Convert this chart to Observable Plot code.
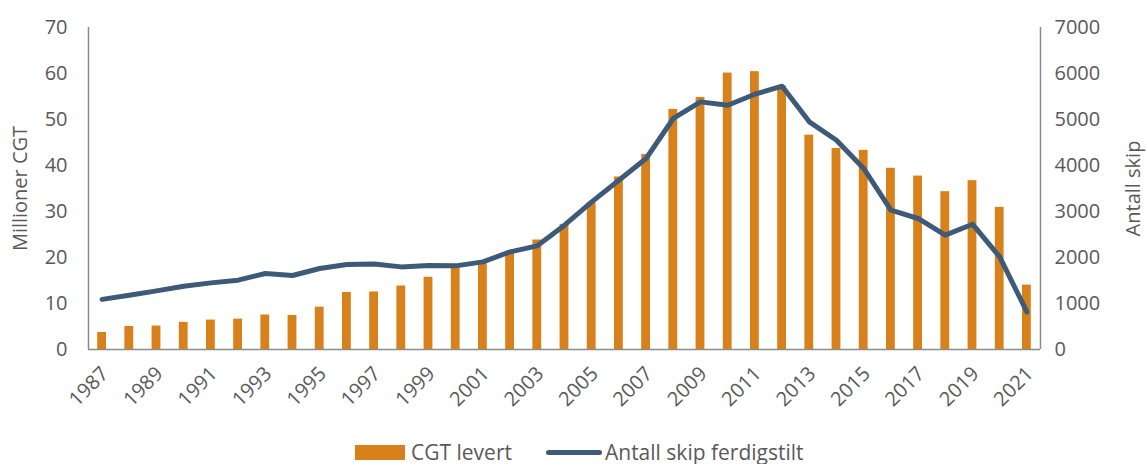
<!DOCTYPE html>
<html>
<head>
<meta charset="utf-8">
<script src="https://cdn.jsdelivr.net/npm/d3@7"></script>
<script src="https://cdn.jsdelivr.net/npm/@observablehq/plot@0.6"></script>
<style>
  body { margin: 0; background: #fff; font-family: "Open Sans", sans-serif; color: #595959; }
  #legend { display: flex; align-items: center; height: 24px; margin-left: 355px; font-size: 21px; color: #595959; }
  .sw-bar { width: 50px; height: 15px; background: #D8801A; margin-right: 6px; }
  .sw-line { width: 56px; height: 5px; background: #3D5A78; border-radius: 3px; margin-left: 34px; margin-right: 3px; }
</style>
</head>
<body>
<div id="chart"></div>
<div id="legend"><div class="sw-bar"></div><span>CGT levert</span><div class="sw-line"></div><span>Antall skip ferdigstilt</span></div>
<script>
const years = d3.range(1987, 2022);
const cgtLevert = [3.7, 5.0, 5.1, 5.9, 6.4, 6.6, 7.5, 7.4, 9.2, 12.4, 12.5, 13.8, 15.7, 17.8, 18.8, 20.9, 23.8, 27.2, 31.9, 37.5, 42.4, 52.2, 54.8, 60.1, 60.4, 57.3, 46.6, 43.7, 43.3, 39.4, 37.7, 34.3, 36.7, 30.9, 14.0];
const antallSkip = [1090, 1180, 1275, 1376, 1448, 1507, 1652, 1609, 1761, 1848, 1861, 1796, 1826, 1818, 1905, 2123, 2253, 2703, 3210, 3681, 4152, 5022, 5383, 5311, 5550, 5724, 4949, 4550, 3935, 3028, 2848, 2485, 2724, 2013, 817];
const leftTicks = [0, 10, 20, 30, 40, 50, 60, 70];
const rightTicks = [0, 1000, 2000, 3000, 4000, 5000, 6000, 7000];
const xTicks = years.filter(y => y % 2 === 1);

const data = years.map((year, i) => ({year, cgt: cgtLevert[i], skip: antallSkip[i]}));
const ratio = 7000 / 70;

const chart = Plot.plot({
  width: 1146,
  height: 440,
  marginLeft: 88,
  marginRight: 106,
  marginTop: 27,
  marginBottom: 91,
  style: {fontFamily: "Open Sans, sans-serif", fontSize: "20px", color: "#595959", background: "#fff"},
  x: {domain: [1986.5, 2021.5], axis: null},
  y: {domain: [0, 70], axis: null},
  marks: [
    Plot.rectY(data, {x1: d => d.year - 0.5, x2: d => d.year + 0.5, y: "cgt", fill: "#D8801A", insetLeft: 9.2, insetRight: 9.2}),
    Plot.ruleY([0], {stroke: "#8c8c8c", strokeWidth: 1.5}),
    Plot.ruleX([1986.5, 2021.5], {stroke: "#8c8c8c", strokeWidth: 1.5}),
    Plot.line(data, {x: "year", y: d => d.skip / ratio, stroke: "#3D5A78", strokeWidth: 5, strokeLinejoin: "round", strokeLinecap: "round"}),
    Plot.axisY(leftTicks, {anchor: "left", tickSize: 0, tickPadding: 21, fontSize: 20, fill: "#595959", label: null}),
    Plot.axisY(rightTicks.map(v => v / ratio), {anchor: "right", tickSize: 0, tickPadding: 14, fontSize: 20, fill: "#595959", tickFormat: d => String(Math.round(d * ratio)), textAnchor: "start", label: null}),
    Plot.axisX(xTicks, {anchor: "bottom", tickSize: 0, tickPadding: 21, dx: 3, tickRotate: -45, fontSize: 20, fill: "#595959", tickFormat: d => String(d), label: null}),
    Plot.text(["Millioner CGT"], {frameAnchor: "left", textAnchor: "middle", dx: -68, rotate: -90, fontSize: 20, fill: "#595959"}),
    Plot.text(["Antall skip"], {frameAnchor: "right", textAnchor: "middle", dx: 93, rotate: -90, fontSize: 20, fill: "#595959"})
  ]
});
document.getElementById("chart").appendChild(chart);
</script>
</body>
</html>
